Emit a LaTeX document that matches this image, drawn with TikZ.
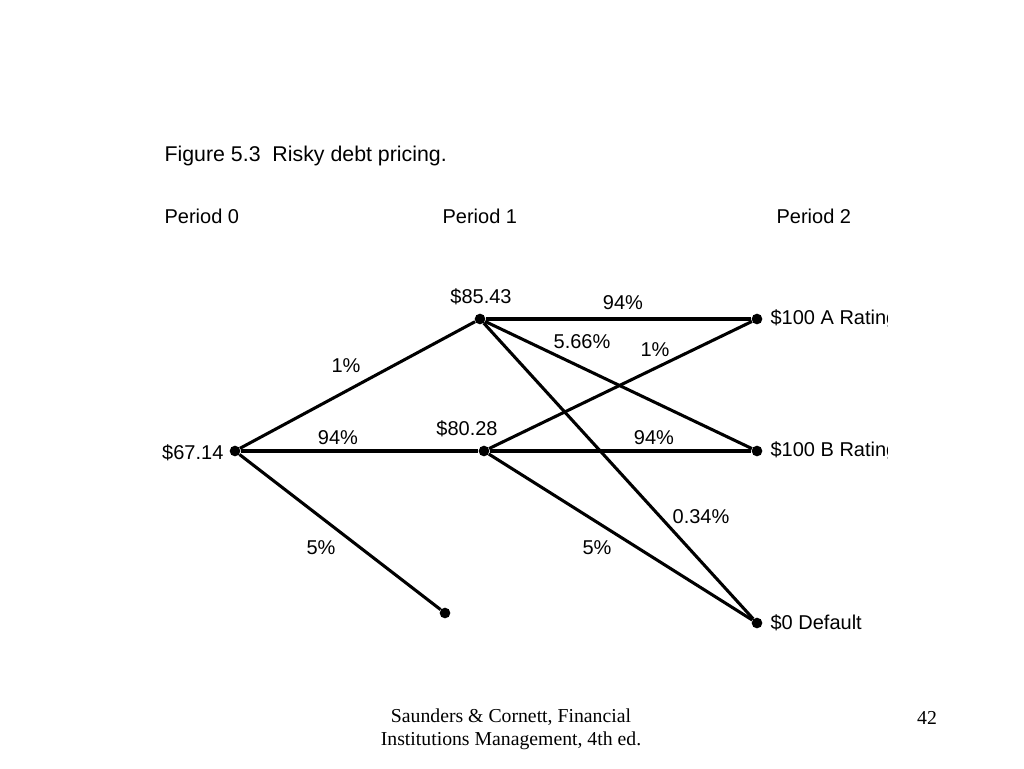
\documentclass[tikz,border=0pt]{standalone}
\usepackage{fontspec}
\setmainfont{Liberation Sans}
\newfontfamily\footfont{Liberation Serif}
\tikzset{
dot/.style={circle, fill, inner sep=0pt, minimum size=8pt},
branch/.style={line width=2.3pt},
prob/.style={font=\fontsize{15}{18}\selectfont, inner sep=1pt},
tag/.style={font=\fontsize{15}{18}\selectfont, inner sep=1pt, anchor=west}
}

\begin{document}
\begin{tikzpicture}[x=0.75pt, y=-0.75pt]
	\useasboundingbox (0,0) rectangle (1024,768);
	% heading and periods
	\node[tag, font=\fontsize{16}{19}\selectfont] (title) at (163,156) {Figure 5.3\ \ Risky debt pricing.};
	\node[tag] (per0) at (163,216) {Period 0};
	\node[tag] (per1) at (441,216) {Period 1};
	\node[tag] (per2) at (775,216) {Period 2};
	% tree points
	\node[dot] (p0) at (235,451) {};
	\node[dot] (up) at (480,319) {};
	\node[dot] (mid) at (484,451) {};
	\node[dot] (dn) at (445,613) {};
	\node[dot] (A) at (757,319) {};
	\node[dot] (B) at (757,451) {};
	\node[dot] (D) at (757,623) {};
	\draw[branch] (p0) -- (up);
	\draw[branch] (p0) -- (mid);
	\draw[branch] (p0) -- (dn);
	\draw[branch] (up) -- (A);
	\draw[branch] (up) -- (B);
	\draw[branch] (up) -- (D);
	\draw[branch] (mid) -- (A);
	\draw[branch] (mid) -- (B);
	\draw[branch] (mid) -- (D);
	% values and probabilities
	\node[prob] (vup) at (481,297) {\$85.43};
	\node[prob] (vmid) at (467,429) {\$80.28};
	\node[prob, anchor=east] (v0) at (225,453) {\$67.14};
	\node[prob] (q1) at (346,366) {1\%};
	\node[prob] (q2) at (338,438) {94\%};
	\node[prob] (q3) at (321,548) {5\%};
	\node[prob] (q4) at (623,303) {94\%};
	\node[prob] (q5) at (582,342) {5.66\%};
	\node[prob] (q6) at (655,350) {1\%};
	\node[prob] (q7) at (654,438) {94\%};
	\node[prob] (q8) at (597,548) {5\%};
	\node[prob] (q9) at (701,517) {0.34\%};
	% end values, cut at the slide frame
	\begin{scope}
		\clip (762,290) rectangle (887,480);
		\node[tag] (vA) at (769,319) {\$100 A Rating};
		\node[tag] (vB) at (769,451) {\$100 B Rating};
	\end{scope}
	\node[tag] (vD) at (769,623) {\$0 Default};
	% footer
	\node[font=\footfont\fontsize{14.8}{17.5}\selectfont, align=center] (src) at (511,729) {Saunders \& Cornett, Financial\\Institutions Management, 4th ed.};
	\node[font=\footfont\fontsize{14.8}{17.5}\selectfont] (pg) at (927,718) {42};
\end{tikzpicture}
\end{document}
